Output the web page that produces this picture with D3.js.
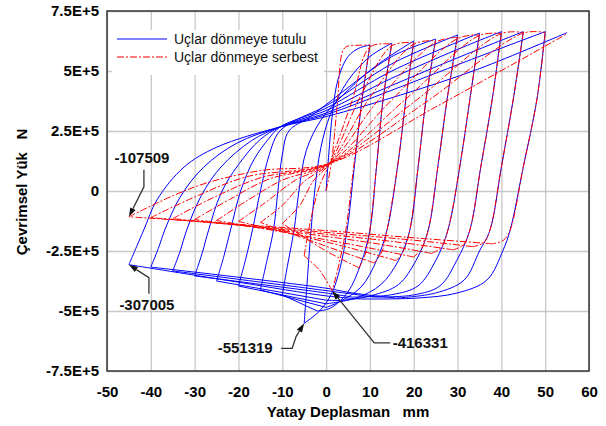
<!DOCTYPE html>
<html><head><meta charset="utf-8">
<script src="https://cdn.jsdelivr.net/npm/d3@7"></script>
<style>
html,body{margin:0;padding:0;background:#fff;}
svg text{font-family:"Liberation Sans",Arial,sans-serif;}
</style></head><body>
<svg id="chart" width="606" height="426"></svg>
<script>
// Cyclic load–displacement test, two end conditions.
const xTicks = [-50, -40, -30, -20, -10, 0, 10, 20, 30, 40, 50, 60];
const yTicks = [750000, 500000, 250000, 0, -250000, -500000, -750000];
const yTickLabels = ["7.5E+5", "5E+5", "2.5E+5", "0", "-2.5E+5", "-5E+5", "-7.5E+5"];
const seriesNames = ["Uçlar dönmeye tutulu", "Uçlar dönmeye serbest"];

// [displacement mm, load N] — ends restrained against rotation
const tutulu = [
  [0,0],[0.6,150000],[1.5,330000],[2.8,470000],[5,560000],[7.5,595000],[10,608000],
  [8.2,380000],[6.5,110000],[4.8,-163000],[3.2,-320000],[1.2,-430000],[-1.5,-500000],[-5,-551319],
  [-4.4,-400000],[-3.6,-200000],[-2.6,0],[-1.2,180000],[1,320000],[5,460000],[10,560000],[15,616000],
  [13,380000],[11.5,100000],[10,-163000],[8,-300000],[5,-420000],[1,-488000],[-2,-500000],[-10,-433000],
  [-8.7,-300000],[-7.3,-162000],[-6.2,0],[-4.5,170000],[-1,300000],[5,420000],[12,530000],[20,625000],
  [18.2,380000],[16.3,100000],[13.9,-163000],[11.5,-290000],[8,-400000],[3,-462000],[0,-485000],[-15,-412000],
  [-13.5,-290000],[-12,-162000],[-11,0],[-10,150000],[-8.5,250000],[-4,305000],[0,360000],[15,560000],[25,633000],
  [22.8,380000],[21,100000],[19.1,-163000],[16.5,-290000],[12.5,-390000],[7,-445000],[0,-470000],[-20,-396000],
  [-18.3,-280000],[-16.8,-162000],[-15,0],[-13,150000],[-11,240000],[-8,285000],[0,355000],[15,530000],[30,650000],
  [27.6,380000],[25.5,100000],[23.3,-163000],[20.5,-290000],[16.5,-390000],[10.5,-435000],[4,-455000],[0,-455000],[-25,-375000],
  [-23.3,-270000],[-21.8,-162000],[-19.5,0],[-16.5,130000],[-13,220000],[-10.5,267000],[0,345000],[15,500000],[35,658000],
  [32.8,380000],[30.5,100000],[27.8,-163000],[25,-290000],[21,-395000],[15,-432000],[6,-442000],[0,-425000],[-30,-354000],
  [-28.3,-260000],[-26.8,-162000],[-24,-10000],[-20,110000],[-15,215000],[-10.5,267000],[0,335000],[15,470000],[30,590000],[40,664000],
  [37.9,380000],[35.3,100000],[32.8,-163000],[29.8,-290000],[26,-395000],[20,-433000],[11,-442000],[0,-415000],[-35,-333000],
  [-33.3,-250000],[-31.8,-162000],[-28.5,-20000],[-24,100000],[-17,210000],[-10.5,267000],[0,325000],[15,440000],[30,555000],[45,664000],
  [42.7,380000],[40,100000],[37.4,-163000],[35,-250000],[31.5,-371000],[25,-425000],[16,-446000],[6,-425000],[0,-405000],[-40,-317000],
  [-38.3,-240000],[-36.8,-162000],[-33.3,-25000],[-27.9,100000],[-20.3,200000],[-10.5,267000],[0,318000],[15,420000],[32,540000],[50,664000],
  [48.1,380000],[45,100000],[42,-163000],[40.4,-246000],[36.7,-371000],[29.9,-425000],[20.8,-446000],[8,-450000],[0,-437000],[-20,-380000],[-45,-307005],
  [-41.6,-162000],[-38.6,-37000],[-32.4,100000],[-24.9,183000],[-10.5,267000],[0,310000],[17,400000],[35,510000],[55,660000]
];

// [displacement mm, load N] — ends free to rotate
const serbest = [
  [0,0],[1.2,117000],[2.5,350000],[3.9,588000],[5,604000],[7,607000],[10,608000],
  [8.2,380000],[6.3,100000],[4.5,-163000],[3,-300000],[1.4,-416331],[-1.5,-330000],[-5,-270000],
  [-3.5,-120000],[-1.5,20000],[0.8,115000],[6,380000],[10,600000],[15,612000],
  [13,380000],[11.5,100000],[10,-163000],[9,-260000],[7.5,-320000],[0,-250000],[-10,-135000],
  [-6,-60000],[-3,40000],[0.8,115000],[8,400000],[15,605000],[20,618000],
  [18.2,380000],[16.3,100000],[13.9,-163000],[12.8,-250000],[11,-300000],[0,-230000],[-15,-131000],
  [-10,-60000],[-5,40000],[0.8,115000],[10,390000],[20,612000],[25,626000],
  [22.8,380000],[21,100000],[19.1,-163000],[17.8,-245000],[16,-290000],[5,-235000],[-20,-127000],
  [-14,-50000],[-7,45000],[0.8,115000],[12,380000],[25,620000],[30,640000],
  [27.6,380000],[25.5,100000],[23.3,-163000],[21.8,-240000],[20,-275000],[5,-220000],[-25,-123000],
  [-18,-40000],[-10,45000],[0.8,115000],[15,380000],[30,635000],[35,650000],
  [32.8,380000],[30.5,100000],[27.8,-163000],[26.3,-235000],[24,-260000],[10,-215000],[-30,-119000],
  [-22,-35000],[-13,50000],[0.8,115000],[18,380000],[35,648000],[40,656000],
  [37.9,380000],[35.3,100000],[32.8,-163000],[31.3,-225000],[29,-245000],[15,-210000],[-35,-115000],
  [-26,-30000],[-15,55000],[0.8,115000],[20,370000],[40,656000],[45,660000],
  [42.7,380000],[40,100000],[37.4,-163000],[36,-215000],[33.5,-232000],[20,-205000],[-40,-111000],
  [-30,-25000],[-18,60000],[0.8,115000],[22,360000],[45,658000],[50,660000],
  [48.1,380000],[45,100000],[42,-163000],[40.5,-205000],[38,-220000],[20,-195000],[0,-165000],[-45,-107509],
  [-35,-20000],[-27,35000],[-15,85000],[0.8,115000],[25,350000],[55,655000]
];

// Callouts: the point they mark, and where the label/leader sit relative to it (px)
const callouts = [
  {label: "-107509", at: [-45, -107509], text: [13, -54], leader: [[15, -47], [15, -30]]},
  {label: "-307005", at: [-45, -307005], text: [18, 45], leader: [[20, 29], [20, 13]]},
  {label: "-551319", at: [-5, -551319], text: [-59, 30], leader: [[-23, 25], [-12, 25], [-8, 13]]},
  {label: "-416331", at: [1.4, -416331], text: [88, 57], leader: [[58, 52], [42, 52]]}
];

const W = 606, H = 426;
const m = {left: 107, right: 17, top: 11, bottom: 55};
const pw = W - m.left - m.right, ph = H - m.top - m.bottom;
const FONT = "Liberation Sans, Arial, sans-serif";

const svg = d3.select("#chart");
const x = d3.scaleLinear().domain([-50, 60]).range([m.left, m.left + pw]);
const y = d3.scaleLinear().domain([-750000, 750000]).range([m.top + ph, m.top]);

// grid
svg.append("g").attr("transform", `translate(0,${m.top + ph})`)
  .call(d3.axisBottom(x).tickValues(xTicks).tickSize(-ph).tickFormat(""))
  .call(g => g.select(".domain").remove())
  .call(g => g.selectAll("line").attr("stroke", "#c8c8c8").attr("stroke-width", 1.3));
svg.append("g").attr("transform", `translate(${m.left},0)`)
  .call(d3.axisLeft(y).tickValues(yTicks).tickSize(-pw).tickFormat(""))
  .call(g => g.select(".domain").remove())
  .call(g => g.selectAll("line").attr("stroke", "#c8c8c8").attr("stroke-width", 1.3));

// tick labels
svg.append("g").attr("transform", `translate(0,${m.top + ph})`)
  .call(d3.axisBottom(x).tickValues(xTicks).tickSize(0).tickPadding(15).tickFormat(d => String(d)))
  .call(g => g.select(".domain").remove())
  .call(g => g.selectAll("text").attr("font-size", 15).attr("font-weight", "bold")
    .attr("fill", "#000").attr("font-family", FONT));
svg.append("g").attr("transform", `translate(${m.left},0)`)
  .call(d3.axisLeft(y).tickValues(yTicks).tickSize(0).tickPadding(8)
    .tickFormat((d, i) => yTickLabels[i]))
  .call(g => g.select(".domain").remove())
  .call(g => g.selectAll("text").attr("font-size", 15).attr("font-weight", "bold")
    .attr("fill", "#000").attr("font-family", FONT));

// legend backing
svg.append("rect").attr("x", 112).attr("y", 30).attr("width", 212).attr("height", 45).attr("fill", "#fff");

// split a load path into monotone branches so the reversal points stay sharp
function branches(pts) {
  const out = []; let cur = [pts[0]]; let sx = 0, sy = 0;
  for (let i = 1; i < pts.length; i++) {
    const dx = Math.sign(pts[i][0] - pts[i - 1][0]);
    const dy = Math.sign(pts[i][1] - pts[i - 1][1]);
    if ((sx && dx && dx !== sx) || (sy && dy && dy !== sy)) {
      out.push(cur); cur = [pts[i - 1]]; sx = 0; sy = 0;
    }
    cur.push(pts[i]);
    if (dx) sx = dx; if (dy) sy = dy;
  }
  out.push(cur);
  return out;
}

const line = d3.line().x(d => x(d[0])).y(d => y(d[1])).curve(d3.curveCatmullRom.alpha(0.5));
const plot = svg.append("g");
plot.selectAll("path.tutulu").data(branches(tutulu)).join("path")
  .attr("class", "tutulu").attr("d", line)
  .attr("fill", "none").attr("stroke", "#0000ff").attr("stroke-width", 1);
plot.selectAll("path.serbest").data(branches(serbest)).join("path")
  .attr("class", "serbest").attr("d", line)
  .attr("fill", "none").attr("stroke", "#ff0000").attr("stroke-width", 1)
  .attr("stroke-dasharray", "7,2,2,2");

// frame
svg.append("rect").attr("x", m.left).attr("y", m.top).attr("width", pw).attr("height", ph)
  .attr("fill", "none").attr("stroke", "#333").attr("stroke-width", 1.5);

// legend
const leg = svg.append("g");
[["#0000ff", null], ["#ff0000", "7,2,2,2"]].forEach(([c, dash], i) => {
  const yy = 39 + i * 18;
  leg.append("line").attr("x1", 117).attr("x2", 167).attr("y1", yy).attr("y2", yy)
    .attr("stroke", c).attr("stroke-width", 1).attr("stroke-dasharray", dash);
  leg.append("text").attr("x", 174).attr("y", yy + 5).attr("font-size", 14)
    .attr("fill", "#111").text(seriesNames[i]);
});

// callouts
const ann = svg.append("g");
callouts.forEach(c => {
  const px = x(c.at[0]), py = y(c.at[1]);
  const pts = c.leader.map(o => [px + o[0], py + o[1]]).concat([[px, py]]);
  const last = pts[pts.length - 2];
  const ang = Math.atan2(py - last[1], px - last[0]);
  const L = 9, Wd = 3;
  const bx = px - L * Math.cos(ang), by = py - L * Math.sin(ang);
  ann.append("path").attr("d", d3.line()(pts.slice(0, -1).concat([[bx, by]])))
    .attr("fill", "none").attr("stroke", "#333").attr("stroke-width", 1.3);
  ann.append("polygon").attr("points", [
    [px, py],
    [bx + Wd * Math.sin(ang), by - Wd * Math.cos(ang)],
    [bx - Wd * Math.sin(ang), by + Wd * Math.cos(ang)]
  ].map(p => p.join(",")).join(" ")).attr("fill", "#111");
  ann.append("text").attr("x", px + c.text[0]).attr("y", py + c.text[1])
    .attr("text-anchor", "middle").attr("font-size", 15).attr("font-weight", "bold")
    .attr("fill", "#111").text(c.label);
});

// axis titles
svg.append("text").attr("x", m.left + pw / 2).attr("y", 417).attr("text-anchor", "middle")
  .attr("font-size", 15).attr("font-weight", "bold").style("white-space", "pre")
  .text("Yatay Deplasman   mm");
svg.append("text").attr("transform", "translate(27,192) rotate(-90)").attr("text-anchor", "middle")
  .attr("font-size", 15).attr("font-weight", "bold").style("white-space", "pre")
  .text("Çevrimsel Yük   N");
</script></body></html>
